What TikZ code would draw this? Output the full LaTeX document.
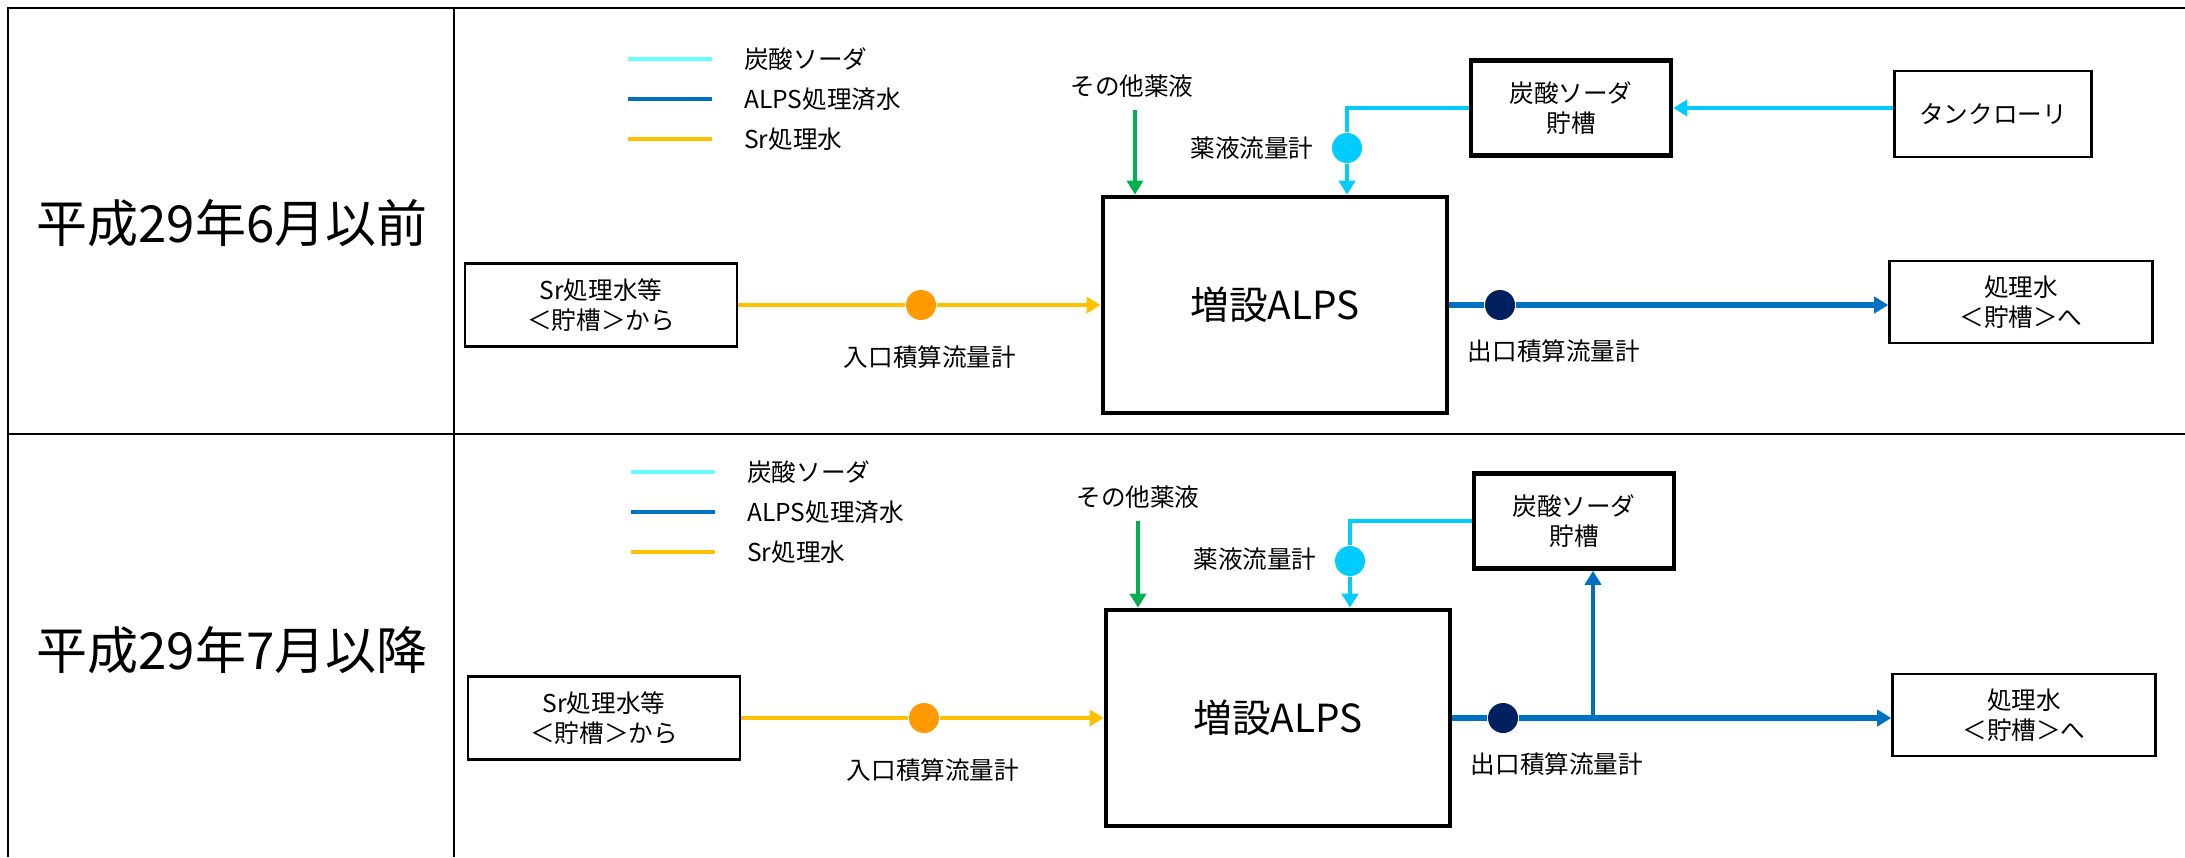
\documentclass[tikz,border=0pt]{standalone}
\usepackage{fontspec}
\setmainfont{Noto Sans CJK JP}
\usetikzlibrary{arrows.meta}

\definecolor{sodalite}{RGB}{102,255,255}
\definecolor{sodapipe}{RGB}{0,204,255}
\definecolor{alpsblue}{RGB}{0,112,192}
\definecolor{sryellow}{RGB}{255,192,0}
\definecolor{meterorange}{RGB}{255,153,0}
\definecolor{meternavy}{RGB}{0,32,96}
\definecolor{chemgreen}{RGB}{0,176,80}

\tikzset{
  gridline/.style={line width=0.75pt},
  lbl/.style={font=\fontsize{7}{8.5}\selectfont, inner sep=1pt},
  rowlbl/.style={font=\fontsize{14.5}{17}\selectfont},
  plainbox/.style={draw, line width=0.7pt, align=center, lbl},
  tankbox/.style={draw, line width=1.3pt, align=center, lbl},
  meterdot/.style={circle, minimum size=0.3cm, inner sep=0pt},
  legline/.style={line width=1.4pt},
  flowtip/.style={-{Triangle[length=4pt,width=4.6pt]}},
  srpipe/.style={sryellow, line width=1.3pt, flowtip},
  alpspipe/.style={alpsblue, line width=1.5pt, flowtip},
  sodaline/.style={sodapipe, line width=1.4pt},
  chemline/.style={chemgreen, line width=0.9pt, flowtip},
}

\begin{document}
\begin{tikzpicture}[x=0.01cm, y=-0.01cm]
\useasboundingbox (0,0) rectangle (2185,857);

%% table
\draw[gridline] (2185,8) -- (8,8) -- (8,857);
\draw[gridline] (454,8) -- (454,857);
\draw[gridline] (8,434) -- (2185,434);

%% row labels
\node[rowlbl] (perioda) at (232,223) {平成29年6月以前};
\node[rowlbl] (periodb) at (232,650) {平成29年7月以降};

%%%%%% before: tank lorry feeds the soda tank
%% legend
\draw[legline, sodalite] (628,59) -- (712,59);
\draw[legline, alpsblue] (628,99) -- (712,99);
\draw[legline, sryellow] (628,139) -- (712,139);
\node[lbl, anchor=west] (lgsodaa) at (740,59) {炭酸ソーダ};
\node[lbl, anchor=west] (lgalpsa) at (740,99) {ALPS処理済水};
\node[lbl, anchor=west] (lgsra) at (740,139) {Sr処理水};

%% boxes
\node[plainbox, minimum width=2.72cm, minimum height=0.83cm] (srca) at (601,305) {Sr処理水等\\＜貯槽＞から};
\node[tankbox, minimum width=3.44cm, minimum height=2.16cm, font=\fontsize{11}{13}\selectfont] (alpsa) at (1275,305) {増設ALPS};
\node[plainbox, minimum width=2.63cm, minimum height=0.82cm] (outa) at (2021,302) {処理水\\＜貯槽＞へ};
\node[tankbox, minimum width=2cm, minimum height=0.95cm] (sodaa) at (1571,108) {炭酸ソーダ\\貯槽};
\node[plainbox, minimum width=1.97cm, minimum height=0.86cm] (trucka) at (1993,114) {タンクローリ};

%% flow meters
\node[meterdot, fill=meterorange] (fina) at (921,305) {};
\node[meterdot, fill=meternavy] (fouta) at (1500,305) {};
\node[meterdot, fill=sodapipe] (fchema) at (1347,148) {};

%% texts
\node[lbl] (finlbla) at (930,357) {入口積算流量計};
\node[lbl] (foutlbla) at (1554,351) {出口積算流量計};
\node[lbl] (fchemlbla) at (1252,148) {薬液流量計};
\node[lbl] (othera) at (1132,86) {その他薬液};
\coordinate (greentopa) at (1135,110);

%% pipes
\draw[srpipe] (srca.east) -- (fina) -- (srca.east -| alpsa.west);
\draw[alpspipe] (alpsa.east) -- (fouta) -- (alpsa.east -| outa.west);
\draw[sodaline] (sodaa.west) -| (fchema);
\draw[sodaline, flowtip] (fchema) -- (fchema |- alpsa.north);
\draw[sodaline, flowtip] (sodaa.east -| trucka.west) -- (sodaa.east);
\draw[chemline] (greentopa) -- (greentopa |- alpsa.north);

%%%%%% after: treated water goes back to the soda tank
\begin{scope}[shift={(3,413)}]
%% legend
\draw[legline, sodalite] (628,59) -- (712,59);
\draw[legline, alpsblue] (628,99) -- (712,99);
\draw[legline, sryellow] (628,139) -- (712,139);
\node[lbl, anchor=west] (lgsodab) at (740,59) {炭酸ソーダ};
\node[lbl, anchor=west] (lgalpsb) at (740,99) {ALPS処理済水};
\node[lbl, anchor=west] (lgsrb) at (740,139) {Sr処理水};

%% boxes
\node[plainbox, minimum width=2.72cm, minimum height=0.83cm] (srcb) at (601,305) {Sr処理水等\\＜貯槽＞から};
\node[tankbox, minimum width=3.44cm, minimum height=2.16cm, font=\fontsize{11}{13}\selectfont] (alpsb) at (1275,305) {増設ALPS};
\node[plainbox, minimum width=2.63cm, minimum height=0.82cm] (outb) at (2021,302) {処理水\\＜貯槽＞へ};
\node[tankbox, minimum width=2cm, minimum height=0.95cm] (sodab) at (1571,108) {炭酸ソーダ\\貯槽};

%% flow meters
\node[meterdot, fill=meterorange] (finb) at (921,305) {};
\node[meterdot, fill=meternavy] (foutb) at (1500,305) {};
\node[meterdot, fill=sodapipe] (fchemb) at (1347,148) {};

%% texts
\node[lbl] (finlblb) at (930,357) {入口積算流量計};
\node[lbl] (foutlblb) at (1554,351) {出口積算流量計};
\node[lbl] (fchemlblb) at (1252,146) {薬液流量計};
\node[lbl] (otherb) at (1135,84) {その他薬液};
\coordinate (greentopb) at (1135,108);
\coordinate (tapb) at (1590,305);

%% pipes
\draw[srpipe] (srcb.east) -- (finb) -- (srcb.east -| alpsb.west);
\draw[alpspipe] (alpsb.east) -- (foutb) -- (alpsb.east -| outb.west);
\draw[alpsblue, line width=1pt, flowtip] (tapb) -- (tapb |- sodab.south);
\draw[sodaline] (sodab.west) -| (fchemb);
\draw[sodaline, flowtip] (fchemb) -- (fchemb |- alpsb.north);
\draw[chemline] (greentopb) -- (greentopb |- alpsb.north);
\end{scope}

\end{tikzpicture}
\end{document}
